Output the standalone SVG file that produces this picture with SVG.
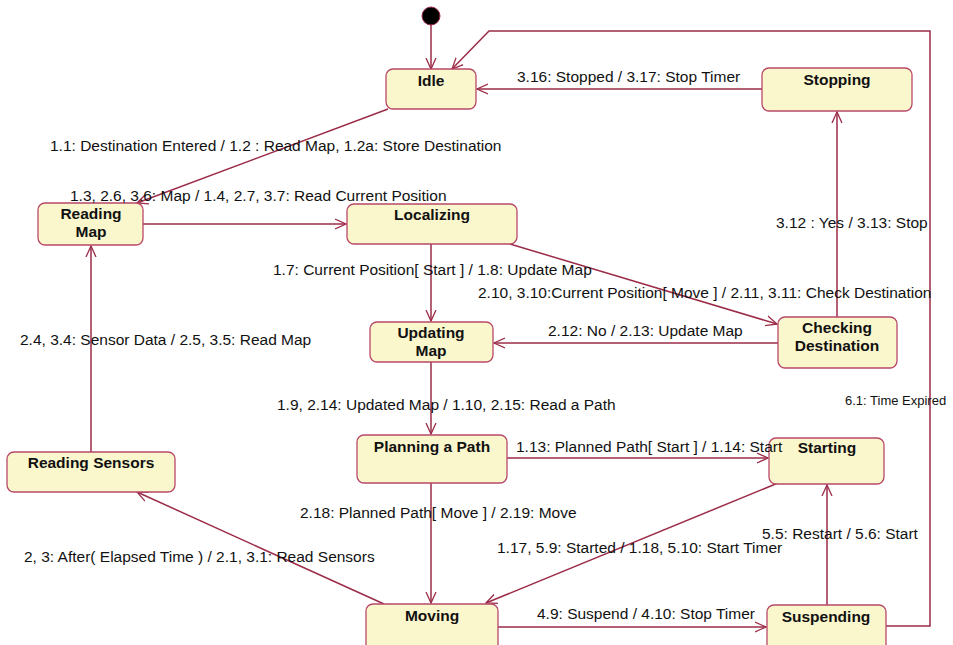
<svg xmlns="http://www.w3.org/2000/svg" width="953" height="645" viewBox="0 0 953 645">
<defs>
<marker id="arr" viewBox="0 0 12 12" refX="11" refY="6" markerWidth="12" markerHeight="12" markerUnits="userSpaceOnUse" orient="auto">
<path d="M0,1 L11,6 L0,11" fill="none" stroke="#9b2c48" stroke-width="1.3"/>
</marker>
<style>
.n rect{fill:#fbf7cd;stroke:#b8486a;stroke-width:1.3}
.n text{font-family:"Liberation Sans",Arial,sans-serif;font-weight:bold;font-size:15.5px;fill:#111;text-anchor:middle}
.c path{fill:none;stroke:#9b2c48;stroke-width:1.5;marker-end:url(#arr)}
.l{font-family:"Liberation Sans",Arial,sans-serif;font-size:15.5px;fill:#111}
</style>
</defs>
<rect width="953" height="645" fill="#fff"/>
<g class="c">
<path d="M431,25 L431,69"/>
<path d="M886,626 L930,626 L930,31 L489,31 L452,69"/>
<path d="M762,89 L477,89"/>
<path d="M388,109 L137,203"/>
<path d="M143,224 L346,224"/>
<path d="M431,244 L431,321"/>
<path d="M510,244 L777,324"/>
<path d="M778,343 L494,343"/>
<path d="M837,317 L837,112"/>
<path d="M431,362 L431,434"/>
<path d="M507,458 L768,458"/>
<path d="M431,483 L431,603"/>
<path d="M778,483 L486,603"/>
<path d="M384,604 L137,492"/>
<path d="M91,452 L91,246"/>
<path d="M498,627 L766,627"/>
<path d="M827,605 L827,485"/>
</g>
<circle cx="431" cy="16" r="9" fill="#000" stroke="#9b2c48" stroke-width="1"/>
<g id="idle" class="n"><rect x="386" y="69" width="90" height="40" rx="7"/><text x="431" y="86">Idle</text></g>
<g id="stopping" class="n"><rect x="762" y="68" width="150" height="43" rx="7"/><text x="837" y="85">Stopping</text></g>
<g id="readingmap" class="n"><rect x="38" y="203" width="105" height="42" rx="7"/><text x="91" y="219">Reading</text><text x="91" y="237">Map</text></g>
<g id="localizing" class="n"><rect x="347" y="204" width="170" height="40" rx="7"/><text x="432" y="220">Localizing</text></g>
<g id="updatingmap" class="n"><rect x="370" y="322" width="123" height="40" rx="7"/><text x="431" y="338">Updating</text><text x="431" y="356">Map</text></g>
<g id="checking" class="n"><rect x="778" y="317" width="119" height="51" rx="7"/><text x="837" y="333">Checking</text><text x="837" y="351">Destination</text></g>
<g id="planning" class="n"><rect x="357" y="435" width="150" height="48" rx="7"/><text x="432" y="452">Planning a Path</text></g>
<g id="starting" class="n"><rect x="769" y="438" width="115" height="46" rx="7"/><text x="827" y="453">Starting</text></g>
<g id="readingsensors" class="n"><rect x="7" y="452" width="168" height="40" rx="7"/><text x="91" y="468">Reading Sensors</text></g>
<g id="moving" class="n"><rect x="366" y="604" width="132" height="50" rx="7"/><text x="432" y="621">Moving</text></g>
<g id="suspending" class="n"><rect x="767" y="605" width="119" height="50" rx="7"/><text x="826" y="622">Suspending</text></g>
<g id="labels">
<text class="l" x="517" y="82">3.16: Stopped / 3.17: Stop Timer</text>
<text class="l" x="50" y="151">1.1: Destination Entered / 1.2 : Read Map, 1.2a: Store Destination</text>
<text class="l" x="70" y="201">1.3, 2.6, 3.6: Map / 1.4, 2.7, 3.7: Read Current Position</text>
<text class="l" x="776" y="228">3.12 : Yes / 3.13: Stop</text>
<text class="l" x="273" y="275">1.7: Current Position[ Start ] / 1.8: Update Map</text>
<text class="l" x="478" y="298">2.10, 3.10:Current Position[ Move ] / 2.11, 3.11: Check Destination</text>
<text class="l" x="548" y="336">2.12: No / 2.13: Update Map</text>
<text class="l" x="20" y="345">2.4, 3.4: Sensor Data / 2.5, 3.5: Read Map</text>
<text class="l" x="845" y="405" style="font-size:13px">6.1: Time Expired</text>
<text class="l" x="277" y="410">1.9, 2.14: Updated Map / 1.10, 2.15: Read a Path</text>
<text class="l" x="516" y="452">1.13: Planned Path[ Start ] / 1.14: Start</text>
<text class="l" x="300" y="518">2.18: Planned Path[ Move ] / 2.19: Move</text>
<text class="l" x="762" y="539">5.5: Restart / 5.6: Start</text>
<text class="l" x="497" y="553">1.17, 5.9: Started / 1.18, 5.10: Start Timer</text>
<text class="l" x="24" y="562">2, 3: After( Elapsed Time ) / 2.1, 3.1: Read Sensors</text>
<text class="l" x="537" y="619">4.9: Suspend / 4.10: Stop Timer</text>
</g>
</svg>
